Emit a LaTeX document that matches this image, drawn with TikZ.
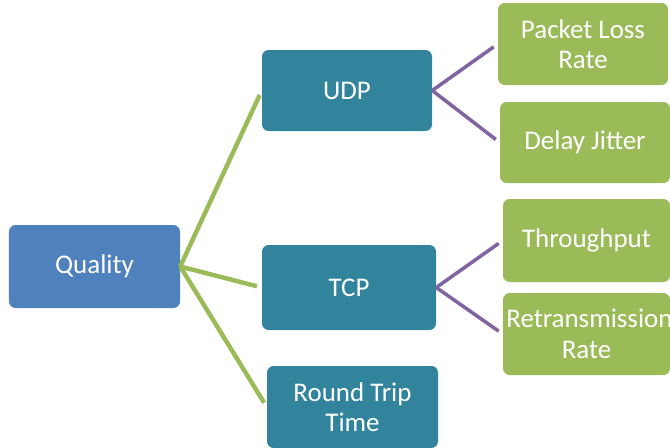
\documentclass[tikz,border=0pt]{standalone}
\usepackage{fontspec}
\setmainfont{Carlito}
\usepackage{tikz}
\usepackage{xcolor}
\definecolor{qblue}{HTML}{4F81BD}
\definecolor{proto}{HTML}{31849B}
\definecolor{metric}{HTML}{9BBB59}
\definecolor{link}{HTML}{8064A2}
\begin{document}
\begin{tikzpicture}[x=0.03cm,y=-0.03cm,
        box/.style={rectangle,rounded corners=0.2cm,text=white,align=flush center,inner sep=0.1cm,font=\fontsize{23}{26}\selectfont},
        wide/.style={text width=#1*0.03cm-0.2cm},
        high/.style={minimum height=#1*0.03cm},
        trunk/.style={draw=metric,line width=3.8pt,shorten >=5*0.03cm},
        twig/.style={draw=link,line width=3pt,shorten >=5*0.03cm}]
    \useasboundingbox (0,0) rectangle (670,448);
    \clip (0,0) rectangle (670,448);
    \node[box,fill=qblue,wide=171,high=83] (quality) at (94.5,266.5) {Quality};
    \node[box,fill=proto,wide=170,high=81] (udp) at (347,90.5) {UDP};
    \node[box,fill=proto,wide=174,high=85] (tcp) at (349,287.5) {TCP};
    \node[box,fill=proto,wide=171,high=82] (rtt) at (352.5,407) {Round Trip\\Time};
    \node[box,fill=metric,wide=170,high=82] (loss) at (583,44) {Packet Loss\\Rate};
    \node[box,fill=metric,wide=170,high=81] (jitter) at (585,142.5) {Delay Jitter};
    \node[box,fill=metric,wide=167,high=83] (thru) at (586.5,240.5) {Throughput};
    \node[box,fill=metric,wide=167,high=82] (retx) at (586.5,334) {Retransmission\\Rate};
    \draw[trunk] (quality.east) -- (udp.west);
    \draw[trunk] (quality.east) -- (tcp.west);
    \draw[trunk] (quality.east) -- (rtt.west);
    \draw[twig] (udp.east) -- (loss.west);
    \draw[twig] (udp.east) -- (jitter.west);
    \draw[twig] (tcp.east) -- (thru.west);
    \draw[twig] (tcp.east) -- (retx.west);
\end{tikzpicture}
\end{document}
